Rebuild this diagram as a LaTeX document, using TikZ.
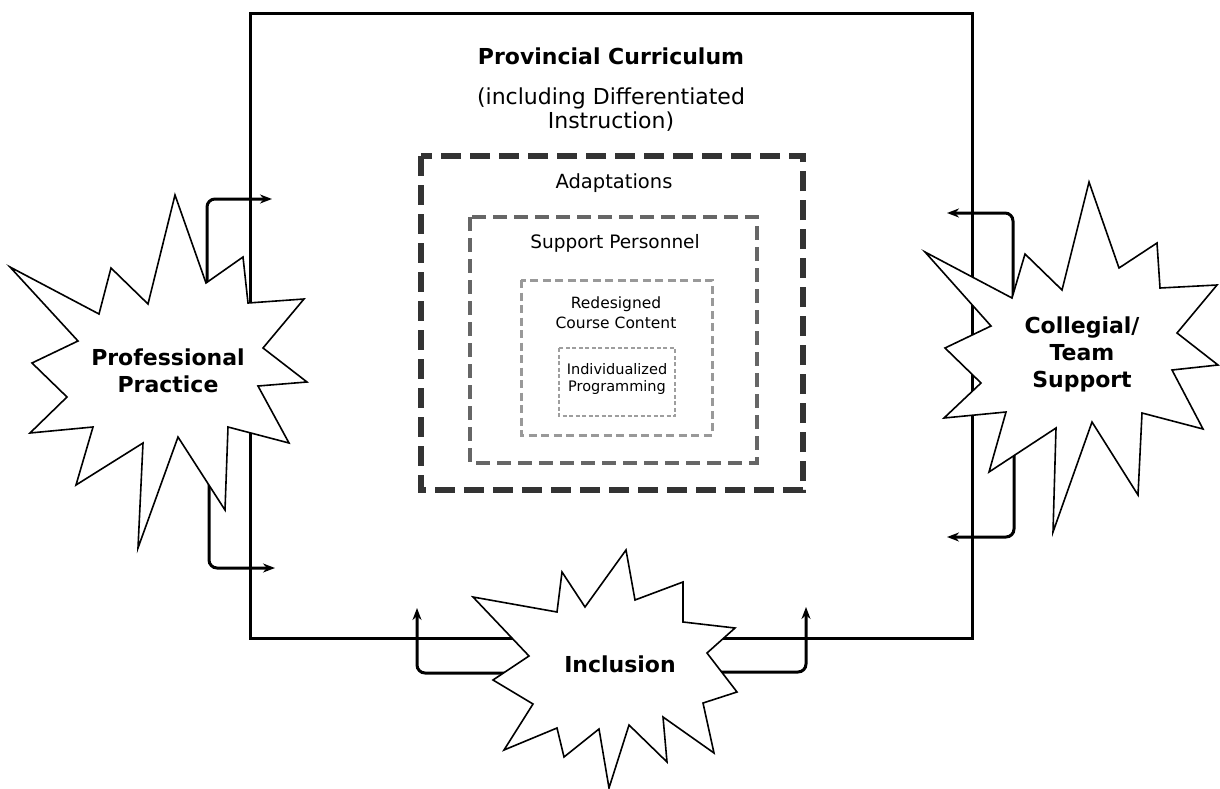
\documentclass[tikz,border=0pt]{standalone}
\usepackage{fontspec}
\setmainfont{DejaVu Sans}
\usetikzlibrary{arrows.meta}

\begin{document}
\begin{tikzpicture}[
    x=1pt, y=-1pt,
    outer box/.style={line width=3pt},
    adapt box/.style={line width=6.5pt, black!80, dash pattern=on 20pt off 9pt},
    personnel box/.style={line width=4.5pt, black!60, dash pattern=on 14pt off 7pt},
    content box/.style={line width=3pt, black!40, dash pattern=on 8pt off 4.5pt},
    program box/.style={line width=2pt, black!38, dash pattern=on 4pt off 2.5pt},
    burst/.style={fill=white, draw=black, line width=1.6pt, line join=miter},
    feed arrow/.style={line width=3pt, rounded corners=8pt, -{Stealth[length=12pt,width=9pt]}},
    burst label/.style={font=\fontsize{22}{27}\selectfont\bfseries, align=center, inner sep=0pt},
    every node/.style={inner sep=0pt}
]
    \useasboundingbox (0,0) rectangle (1220,789);

    % Outer box and nested boxes
    \draw[outer box] (250,14) rectangle (972,638);
    \draw[adapt box] (421,156) rectangle (803,490);
    \draw[personnel box] (470,217) rectangle (757,463);
    \draw[content box] (521,280) rectangle (712,435);
    \draw[program box] (559,348) rectangle (675,416);

    % Texts of the boxes
    \node[font=\fontsize{22}{24}\selectfont\bfseries] (title) at (611,56) {Provincial Curriculum};
    \node[font=\fontsize{22}{24}\selectfont, align=center] (subtitle) at (611,110) {(including Differentiated\\Instruction)};
    \node[font=\fontsize{19.5}{22}\selectfont] (adapt) at (614,183) {Adaptations};
    \node[font=\fontsize{18.5}{22}\selectfont] (personnel) at (615,243) {Support Personnel};
    \node[font=\fontsize{15.5}{20}\selectfont, align=center] (content) at (616,313) {Redesigned\\Course Content};
    \node[font=\fontsize{14.5}{17.5}\selectfont, align=center] (program) at (617,379) {Individualized\\Programming};

    % Arrow ends
    \coordinate (pp in1) at (207,300);
    \coordinate (pp out1) at (272,199);
    \coordinate (pp in2) at (209,470);
    \coordinate (pp out2) at (275,568);
    \coordinate (ct in1) at (1013,310);
    \coordinate (ct out1) at (947,213);
    \coordinate (ct in2) at (1014,440);
    \coordinate (ct out2) at (947,537);
    \coordinate (inc in1) at (520,673);
    \coordinate (inc out1) at (417,608);
    \coordinate (inc in2) at (710,672);
    \coordinate (inc out2) at (806,607);

    % Arrows (behind the bursts)
    \draw[feed arrow] (pp in1) |- (pp out1);
    \draw[feed arrow] (pp in2) |- (pp out2);
    \draw[feed arrow] (ct in1) |- (ct out1);
    \draw[feed arrow] (ct in2) |- (ct out2);
    \draw[feed arrow] (inc in1) -| (inc out1);
    \draw[feed arrow] (inc in2) -| (inc out2);

    % Bursts
    \draw[burst] (175,195) -- (206,283) -- (243,257) -- (248,303) -- (304,299) -- (263,348)
        -- (307,382) -- (258,386) -- (289,443) -- (228,427) -- (225,510) -- (178,437)
        -- (138,548) -- (143,443) -- (76,485) -- (93,427) -- (30,433) -- (67,397)
        -- (32,363) -- (78,341) -- (10,267) -- (99,314) -- (111,268) -- (148,304) -- cycle;
    \draw[burst] (1089,182) -- (1119,268) -- (1157,243) -- (1160,288) -- (1217,285) -- (1177,333)
        -- (1218,365) -- (1172,370) -- (1203,429) -- (1142,413) -- (1138,495) -- (1092,422)
        -- (1053,532) -- (1056,428) -- (989,472) -- (1006,412) -- (944,418) -- (981,383)
        -- (945,348) -- (991,326) -- (925,252) -- (1012,298) -- (1025,254) -- (1062,290) -- cycle;
    \draw[burst] (626,550) -- (635,600) -- (683,582) -- (683,622) -- (735,628) -- (707,653)
        -- (737,692) -- (703,703) -- (714,753) -- (663,717) -- (667,762) -- (629,725)
        -- (609,788) -- (599,729) -- (564,757) -- (557,728) -- (504,750) -- (533,704)
        -- (493,680) -- (529,656) -- (473,597) -- (557,612) -- (562,572) -- (585,607) -- cycle;

    % Burst labels
    \node[burst label] (practice) at (168,371) {Professional\\Practice};
    \node[burst label] (collegial) at (1082,354) {Collegial/\\Team\\Support};
    \node[burst label] (inclusion) at (620,664) {Inclusion};
\end{tikzpicture}
\end{document}
